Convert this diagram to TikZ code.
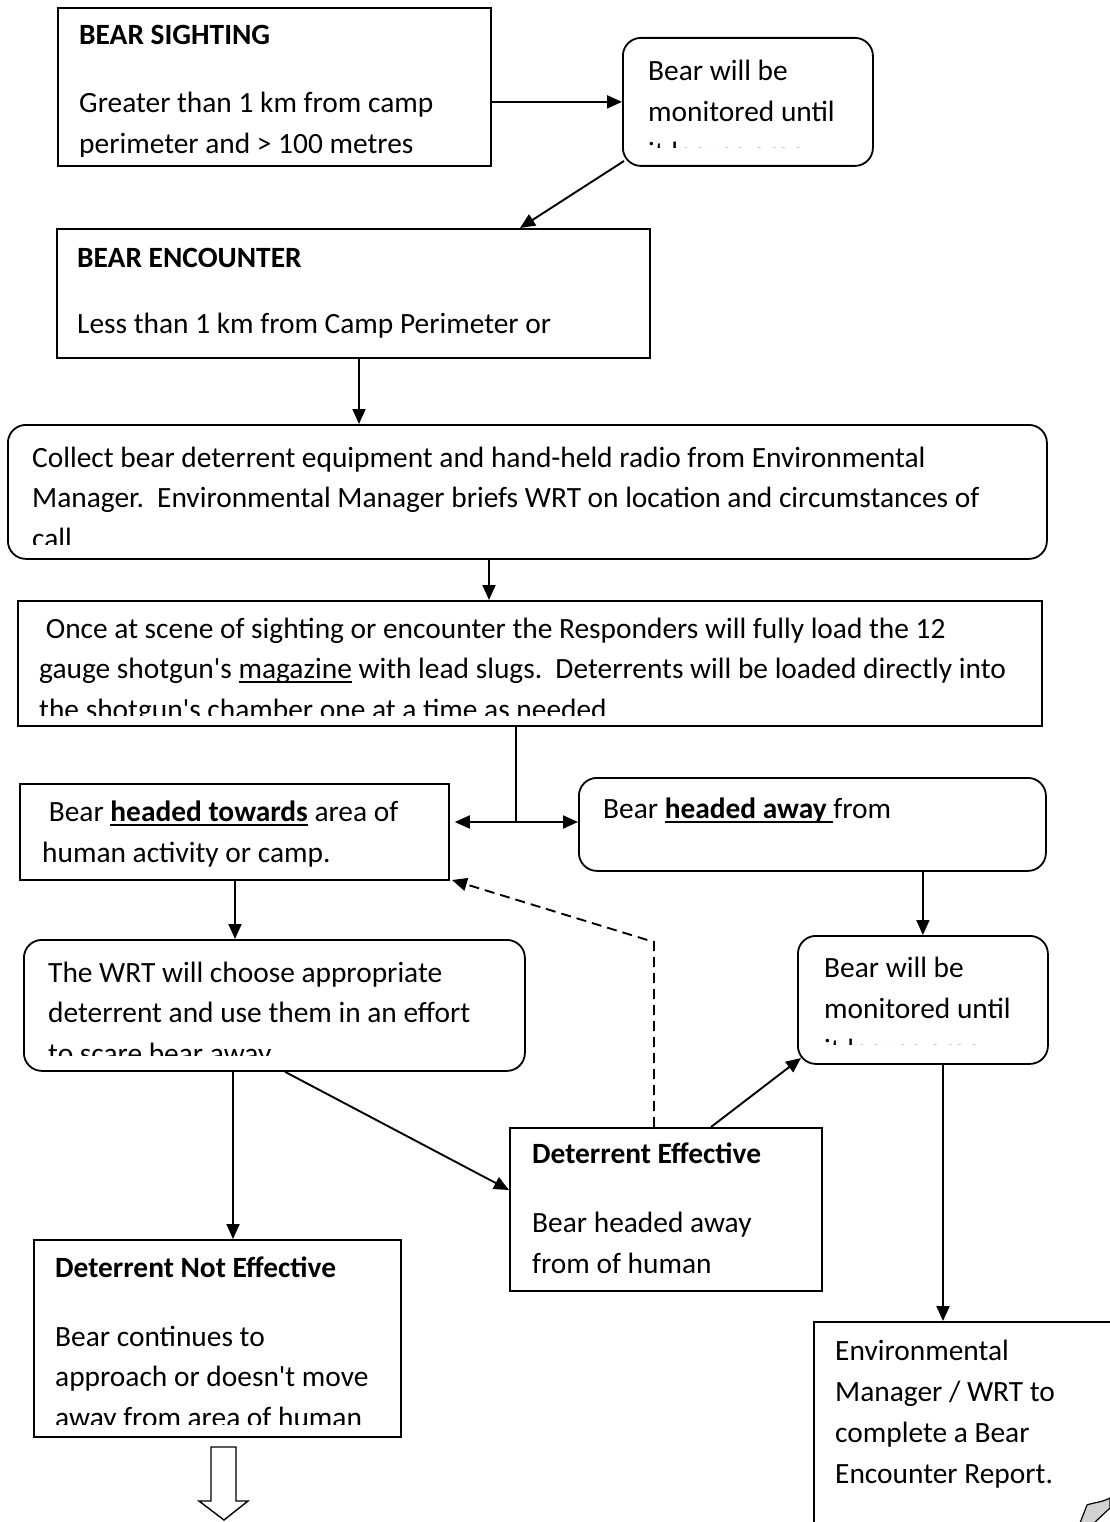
\documentclass[tikz,border=0pt]{standalone}
\usepackage{fontspec}
\setmainfont{Carlito}[Ligatures=TeXOff]
\usetikzlibrary{arrows.meta}
\newcommand\ulx[1]{\setbox0\hbox{#1}\rlap{\rule[-5pt]{\wd0}{2pt}}\box0\relax}
\tikzset{
  bx/.style={draw, line width=1.8pt, inner sep=0pt, anchor=north west},
  sq/.style={bx},
  rnd/.style={bx, rounded corners=18pt},
  tx/.style={anchor=base west, inner sep=0pt, font=\fontsize{29.4}{40.7}\selectfont},
  hd/.style={anchor=base west, inner sep=0pt, font=\fontsize{29.4}{40.7}\selectfont\bfseries},
  arr/.style={line width=1.9pt, -{Triangle[length=15pt,width=13pt]}},
  dbl/.style={line width=1.9pt, {Triangle[length=15pt,width=13pt]}-{Triangle[length=15pt,width=13pt]}},
  ln/.style={line width=1.6pt},
  dsh/.style={line width=1.9pt, dash pattern=on 10pt off 6pt, -{Triangle[length=15pt,width=13pt]}},
}
\begin{document}
\begin{tikzpicture}[x=1pt,y=-1pt]
\useasboundingbox (0,0) rectangle (1110,1522);
\clip (0,0) rectangle (1110,1522);

% boxes
\node[sq,  minimum width=433pt,  minimum height=158pt] (b1)  at (57,7) {};
\node[rnd, minimum width=250pt,  minimum height=128pt] (b2)  at (622,37) {};
\node[sq,  minimum width=593pt,  minimum height=129pt] (b3)  at (56,228) {};
\node[rnd, minimum width=1039pt, minimum height=134pt] (b4)  at (7,424) {};
\node[sq,  minimum width=1024pt, minimum height=125pt] (b5)  at (17,600) {};
\node[sq,  minimum width=429pt,  minimum height=96pt]  (b6)  at (19,783) {};
\node[rnd, minimum width=467pt,  minimum height=93pt]  (b7)  at (578,777) {};
\node[rnd, minimum width=501pt,  minimum height=131pt] (b8)  at (23,939) {};
\node[rnd, minimum width=250pt,  minimum height=128pt] (b9)  at (797,935) {};
\node[sq,  minimum width=312pt,  minimum height=163pt] (b10) at (509,1127) {};
\node[sq,  minimum width=367pt,  minimum height=197pt] (b11) at (33,1239) {};
\node[sq,  minimum width=330pt,  minimum height=260pt] (b12) at (813,1321) {};

% texts
\begin{scope}
\clip (57,7) rectangle (490,157);
\node[hd] (t1a) at (79,45) {BEAR SIGHTING};
\node[tx] (t1b) at (79,113) {Greater than 1 km from camp};
\node[tx] (t1c) at (79,154) {perimeter and > 100 metres};
\end{scope}
\begin{scope}
\clip (622,37) rectangle (872,148);
\node[tx] (t2a) at (648,81) {Bear will be};
\node[tx] (t2b) at (648,122) {monitored until};
\node[tx] (t2c) at (648,163) {it leaves area};
\end{scope}
\node[hd] (t3a) at (77,267) {BEAR ENCOUNTER};
\node[tx] (t3b) at (77,333) {Less than 1 km from Camp Perimeter or};
\begin{scope}
\clip (7,424) rectangle (1046,544);
\node[tx] (t4a) at (32,467) {Collect bear deterrent equipment and hand-held radio from Environmental};
\node[tx] (t4b) at (32,507) {Manager.\ \ Environmental Manager briefs WRT on location and circumstances of};
\node[tx] (t4c) at (32,548) {call};
\end{scope}
\begin{scope}
\clip (17,600) rectangle (1041,715);
\node[tx] (t5a) at (39,638) {\ Once at scene of sighting or encounter the Responders will fully load the 12};
\node[tx] (t5b) at (39,678) {gauge shotgun's \ulx{magazine} with lead slugs.\ \ Deterrents will be loaded directly into};
\node[tx] (t5c) at (39,719) {the shotgun's chamber one at a time as needed};
\end{scope}
\node[tx] (t6a) at (42,821) {\ Bear \ulx{\bfseries headed towards} area of};
\node[tx] (t6b) at (42,862) {human activity or camp.};
\node[tx] (t7a) at (603,818) {Bear \ulx{\bfseries headed away\ }from};
\begin{scope}
\clip (23,939) rectangle (524,1055);
\node[tx] (t8a) at (48,982) {The WRT will choose appropriate};
\node[tx] (t8b) at (48,1022) {deterrent and use them in an effort};
\node[tx] (t8c) at (48,1063) {to scare bear away};
\end{scope}
\begin{scope}
\clip (797,935) rectangle (1047,1044);
\node[tx] (t9a) at (824,977) {Bear will be};
\node[tx] (t9b) at (824,1018) {monitored until};
\node[tx] (t9c) at (824,1059) {it leaves area};
\end{scope}
\node[hd] (t10a) at (532,1163) {Deterrent Effective};
\node[tx] (t10b) at (532,1232) {Bear headed away};
\node[tx] (t10c) at (532,1273) {from of human};
\begin{scope}
\clip (33,1239) rectangle (400,1424);
\node[hd] (t11a) at (55,1277) {Deterrent Not Effective};
\node[tx] (t11b) at (55,1346) {Bear continues to};
\node[tx] (t11c) at (55,1386) {approach or doesn't move};
\node[tx] (t11d) at (55,1427) {away from area of human};
\end{scope}
\node[tx] (t12a) at (835,1360) {Environmental};
\node[tx] (t12b) at (835,1401) {Manager / WRT to};
\node[tx] (t12c) at (835,1442) {complete a Bear};
\node[tx] (t12d) at (835,1483) {Encounter Report.};

% helper coordinates
\coordinate (k1) at (624,161);
\coordinate (k2) at (520,0);
\coordinate (x3) at (359,0);
\coordinate (x4) at (489,0);
\coordinate (j)  at (516,822);
\coordinate (x6) at (235,0);
\coordinate (x8) at (233,0);
\coordinate (d1) at (285,0);
\coordinate (d2) at (0,1190);
\coordinate (e1) at (711,0);
\coordinate (e2) at (801,1058);
\coordinate (g1) at (654,0);
\coordinate (g2) at (654,942);
\coordinate (g3) at (452,880);
\coordinate (x9) at (943,0);

% connectors
\draw[arr] (b1.east |- b2.west) -- (b2.west);
\draw[arr] (k1) -- (k2 |- b3.north);
\draw[arr] (x3 |- b3.south) -- (x3 |- b4.north);
\draw[arr] (x4 |- b4.south) -- (x4 |- b5.north);
\draw[ln] (j |- b5.south) -- (j);
\draw[dbl] ([xshift=5pt]b6.east |- j) -- (b7.west |- j);
\draw[arr] (x6 |- b6.south) -- (x6 |- b8.north);
\draw[arr] (b9.north |- b7.south) -- (b9.north);
\draw[arr] (x8 |- b8.south) -- (x8 |- b11.north);
\draw[arr] (d1 |- b8.south) -- (b10.west |- d2);
\draw[arr] (e1 |- b10.north) -- (e2);
\draw[dsh] (g1 |- b10.north) -- (g2) -- (g3);
\draw[arr] (x9 |- b9.south) -- (x9 |- b12.north);

% hollow block arrow
\draw[line width=1.4pt, fill=white] (211,1447) -- (236,1447) -- (236,1501) -- (248,1501)
  -- (224,1520) -- (199,1501) -- (211,1501) -- cycle;
% folded corner
\draw[fill=gray!35, line width=1.2pt] (1080,1523) -- (1087,1505)
  .. controls (1095,1502) and (1100,1503) .. (1110,1498) -- (1110,1508) -- (1094,1523) -- cycle;
\end{tikzpicture}
\end{document}
